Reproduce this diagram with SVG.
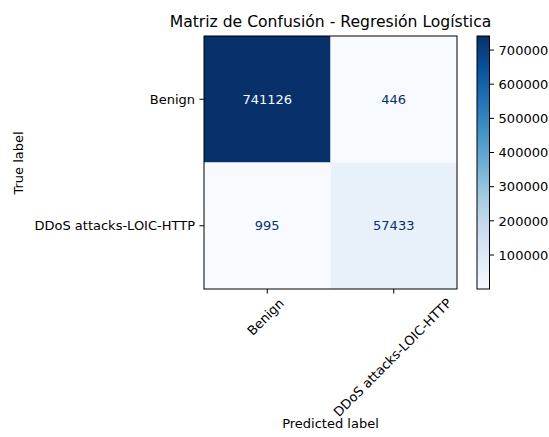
<svg xmlns="http://www.w3.org/2000/svg" width="549" height="437" viewBox="0 0 549 437">
<style>
text{font-family:"DejaVu Sans","Liberation Sans",sans-serif;fill:#000}
.t{font-size:13px}
.title{font-size:15.6px}
.cell{font-size:13px;text-anchor:middle}
.spine{fill:none;stroke:#000;stroke-width:1}
.tick{stroke:#000;stroke-width:1}
</style>
<defs>
<linearGradient id="blues" x1="0" y1="1" x2="0" y2="0">
<stop offset="0" stop-color="#f7fbff"/>
<stop offset="0.125" stop-color="#deebf7"/>
<stop offset="0.25" stop-color="#c6dbef"/>
<stop offset="0.375" stop-color="#9ecae1"/>
<stop offset="0.5" stop-color="#6baed6"/>
<stop offset="0.625" stop-color="#4292c6"/>
<stop offset="0.75" stop-color="#2171b5"/>
<stop offset="0.875" stop-color="#08519c"/>
<stop offset="1" stop-color="#08306b"/>
</linearGradient>
</defs>
<rect width="549" height="437" fill="#fff"/>
<text class="title" x="330.5" y="27" text-anchor="middle">Matriz de Confusión - Regresión Logística</text>

<g id="matrix">
<g id="cell-00"><rect x="204" y="36" width="126.5" height="126.5" fill="#08306b"/><text class="cell" x="267.25" y="103.8" fill="#f7fbff" style="fill:#f7fbff">741126</text></g>
<g id="cell-01"><rect x="330.5" y="36" width="126.5" height="126.5" fill="#f7fbff"/><text class="cell" x="393.75" y="103.8" style="fill:#08306b">446</text></g>
<g id="cell-10"><rect x="204" y="162.5" width="126.5" height="126.5" fill="#f7fbff"/><text class="cell" x="267.25" y="230.3" style="fill:#08306b">995</text></g>
<g id="cell-11"><rect x="330.5" y="162.5" width="126.5" height="126.5" fill="#e8f1fa"/><text class="cell" x="393.75" y="230.3" style="fill:#08306b">57433</text></g>
<rect class="spine" x="204" y="36" width="253" height="253"/>
</g>

<g id="axes">
<line class="tick" x1="204" y1="99.25" x2="199.4" y2="99.25"/>
<line class="tick" x1="204" y1="225.75" x2="199.4" y2="225.75"/>
<line class="tick" x1="267.25" y1="289" x2="267.25" y2="293.6"/>
<line class="tick" x1="393.75" y1="289" x2="393.75" y2="293.6"/>
<text class="t" x="195" y="103.9" text-anchor="end">Benign</text>
<text class="t" x="195" y="230.4" text-anchor="end">DDoS attacks-LOIC-HTTP</text>
<text class="t" transform="translate(266,317.5) rotate(-45)" text-anchor="middle" dy="0.3em">Benign</text>
<text class="t" transform="translate(392.5,357.5) rotate(-45)" text-anchor="middle" dy="0.35em">DDoS attacks-LOIC-HTTP</text>
<text class="t" x="330.5" y="428" text-anchor="middle">Predicted label</text>
<text class="t" transform="translate(23,163) rotate(-90)" text-anchor="middle">True label</text>
</g>

<g id="colorbar">
<rect x="477" y="36" width="12.5" height="253" fill="url(#blues)"/>
<rect class="spine" x="477" y="36" width="12.5" height="253"/>
<g class="tick">
<line x1="489.5" y1="255" x2="494.1" y2="255"/>
<line x1="489.5" y1="220.84" x2="494.1" y2="220.84"/>
<line x1="489.5" y1="186.68" x2="494.1" y2="186.68"/>
<line x1="489.5" y1="152.52" x2="494.1" y2="152.52"/>
<line x1="489.5" y1="118.36" x2="494.1" y2="118.36"/>
<line x1="489.5" y1="84.21" x2="494.1" y2="84.21"/>
<line x1="489.5" y1="50.05" x2="494.1" y2="50.05"/>
</g>
<text class="t" x="498.6" y="259.7">100000</text>
<text class="t" x="498.6" y="225.5">200000</text>
<text class="t" x="498.6" y="191.4">300000</text>
<text class="t" x="498.6" y="157.2">400000</text>
<text class="t" x="498.6" y="123.1">500000</text>
<text class="t" x="498.6" y="88.9">600000</text>
<text class="t" x="498.6" y="54.7">700000</text>
</g>
</svg>
